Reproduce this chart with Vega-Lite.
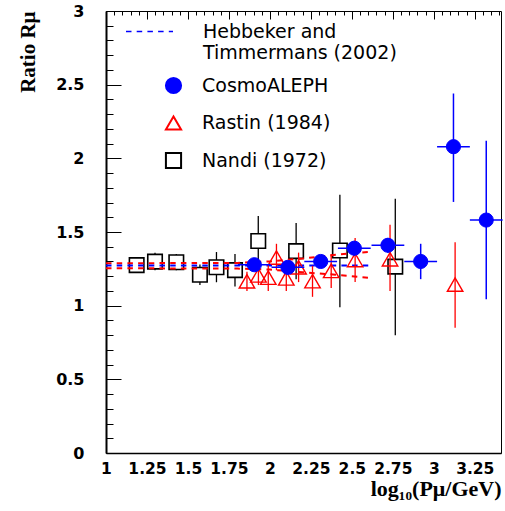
{
  "$schema": "https://vega.github.io/schema/vega-lite/v6.json",
  "width": 395,
  "height": 442,
  "autosize": "none",
  "padding": {"left": 106, "top": 11, "right": 4, "bottom": 58},
  "background": "white",
  "config": {
    "view": {"stroke": "#000", "strokeWidth": 1},
    "legend": {
      "labelFont": "DejaVu Sans",
      "labelFontSize": 19,
      "labelColor": "#000",
      "labelLimit": 400,
      "symbolStrokeWidth": 2,
      "rowPadding": 13.5,
      "title": null
    }
  },
  "datasets": {
    "theory": [
      {"model": "Hebbeker and Timmermans (2002)", "logp": 1.0, "center": 1.272, "upper": 1.288, "lower": 1.254},
      {"model": "Hebbeker and Timmermans (2002)", "logp": 1.8, "center": 1.272, "upper": 1.29, "lower": 1.252},
      {"model": "Hebbeker and Timmermans (2002)", "logp": 2.0, "center": 1.272, "upper": 1.30, "lower": 1.245},
      {"model": "Hebbeker and Timmermans (2002)", "logp": 2.2, "center": 1.272, "upper": 1.32, "lower": 1.227},
      {"model": "Hebbeker and Timmermans (2002)", "logp": 2.4, "center": 1.272, "upper": 1.345, "lower": 1.21},
      {"model": "Hebbeker and Timmermans (2002)", "logp": 2.6, "center": 1.272, "upper": 1.365, "lower": 1.19}
    ],
    "nandi": [
      {"series": "Nandi (1972)", "logp": 1.187, "ratio": 1.275, "lo": 1.23, "hi": 1.32},
      {"series": "Nandi (1972)", "logp": 1.299, "ratio": 1.299, "lo": 1.24, "hi": 1.36},
      {"series": "Nandi (1972)", "logp": 1.429, "ratio": 1.295, "lo": 1.24, "hi": 1.35},
      {"series": "Nandi (1972)", "logp": 1.573, "ratio": 1.21, "lo": 1.14, "hi": 1.28},
      {"series": "Nandi (1972)", "logp": 1.674, "ratio": 1.261, "lo": 1.159, "hi": 1.364},
      {"series": "Nandi (1972)", "logp": 1.787, "ratio": 1.241, "lo": 1.13, "hi": 1.35},
      {"series": "Nandi (1972)", "logp": 1.929, "ratio": 1.439, "lo": 1.27, "hi": 1.609},
      {"series": "Nandi (1972)", "logp": 2.16, "ratio": 1.37, "lo": 1.18, "hi": 1.561},
      {"series": "Nandi (1972)", "logp": 2.427, "ratio": 1.374, "lo": 0.989, "hi": 1.752},
      {"series": "Nandi (1972)", "logp": 2.765, "ratio": 1.265, "lo": 0.80, "hi": 1.725}
    ],
    "rastin": [
      {"series": "Rastin (1984)", "logp": 1.86, "ratio": 1.165, "lo": 1.10, "hi": 1.23},
      {"series": "Rastin (1984)", "logp": 1.93, "ratio": 1.205, "lo": 1.14, "hi": 1.27},
      {"series": "Rastin (1984)", "logp": 1.99, "ratio": 1.19, "lo": 1.10, "hi": 1.28},
      {"series": "Rastin (1984)", "logp": 2.04, "ratio": 1.327, "lo": 1.24, "hi": 1.42},
      {"series": "Rastin (1984)", "logp": 2.10, "ratio": 1.185, "lo": 1.10, "hi": 1.27},
      {"series": "Rastin (1984)", "logp": 2.175, "ratio": 1.26, "lo": 1.16, "hi": 1.36},
      {"series": "Rastin (1984)", "logp": 2.26, "ratio": 1.166, "lo": 1.06, "hi": 1.27},
      {"series": "Rastin (1984)", "logp": 2.374, "ratio": 1.236, "lo": 1.12, "hi": 1.35},
      {"series": "Rastin (1984)", "logp": 2.52, "ratio": 1.31, "lo": 1.16, "hi": 1.46},
      {"series": "Rastin (1984)", "logp": 2.733, "ratio": 1.315, "lo": 1.10, "hi": 1.55},
      {"series": "Rastin (1984)", "logp": 3.13, "ratio": 1.143, "lo": 0.85, "hi": 1.43}
    ],
    "cosmo": [
      {"series": "CosmoALEPH", "logp": 1.905, "ratio": 1.278, "lo": 1.24, "hi": 1.32, "xlo": 1.805, "xhi": 2.005},
      {"series": "CosmoALEPH", "logp": 2.11, "ratio": 1.26, "lo": 1.22, "hi": 1.30, "xlo": 2.01, "xhi": 2.21},
      {"series": "CosmoALEPH", "logp": 2.31, "ratio": 1.30, "lo": 1.26, "hi": 1.34, "xlo": 2.21, "xhi": 2.41},
      {"series": "CosmoALEPH", "logp": 2.515, "ratio": 1.39, "lo": 1.34, "hi": 1.44, "xlo": 2.415, "xhi": 2.615},
      {"series": "CosmoALEPH", "logp": 2.72, "ratio": 1.41, "lo": 1.36, "hi": 1.46, "xlo": 2.62, "xhi": 2.82},
      {"series": "CosmoALEPH", "logp": 2.92, "ratio": 1.30, "lo": 1.18, "hi": 1.42, "xlo": 2.82, "xhi": 3.02},
      {"series": "CosmoALEPH", "logp": 3.12, "ratio": 2.079, "lo": 1.704, "hi": 2.44, "xlo": 3.02, "xhi": 3.22},
      {"series": "CosmoALEPH", "logp": 3.32, "ratio": 1.581, "lo": 1.043, "hi": 2.12, "xlo": 3.22, "xhi": 3.42}
    ]
  },
  "resolve": {"axis": {"x": "independent", "y": "independent"}},
  "layer": [
    {
      "data": {"name": "nandi"},
      "mark": {"type": "rule", "color": "#000", "strokeWidth": 1.3},
      "encoding": {
        "x": {"field": "logp", "type": "quantitative", "scale": {"domain": [1, 3.41], "nice": false, "zero": false}, "axis": null},
        "y": {"field": "lo", "type": "quantitative", "scale": {"domain": [0, 3], "nice": false, "zero": false}, "axis": null},
        "y2": {"field": "hi"}
      }
    },
    {
      "data": {"name": "nandi"},
      "mark": {"type": "point", "opacity": 1, "strokeWidth": 1.6, "size": 210},
      "encoding": {
        "x": {"field": "logp", "type": "quantitative", "axis": null},
        "y": {"field": "ratio", "type": "quantitative", "axis": null},
        "shape": {"field": "series", "type": "nominal", "scale": {"domain": ["CosmoALEPH", "Rastin (1984)", "Nandi (1972)"], "range": ["circle", "triangle-up", "square"]},
          "legend": {"orient": "none", "legendX": 58, "legendY": 65, "symbolSize": 230, "labelOffset": 19}},
        "stroke": {"field": "series", "type": "nominal", "scale": {"domain": ["CosmoALEPH", "Rastin (1984)", "Nandi (1972)"], "range": ["#0000ff", "#ff0000", "#000000"]}},
        "fill": {"field": "series", "type": "nominal", "scale": {"domain": ["CosmoALEPH", "Rastin (1984)", "Nandi (1972)"], "range": ["#0000ff", "transparent", "#ffffff"]}}
      }
    },
    {
      "data": {"name": "theory"},
      "mark": {"type": "line", "color": "#ff0000", "strokeWidth": 2, "strokeDash": [5.5, 5.2]},
      "encoding": {
        "x": {"field": "logp", "type": "quantitative",
          "axis": {"orient": "bottom",
            "values": [1, 1.05, 1.1, 1.15, 1.2, 1.25, 1.3, 1.35, 1.4, 1.45, 1.5, 1.55, 1.6, 1.65, 1.7, 1.75, 1.8, 1.85, 1.9, 1.95, 2, 2.05, 2.1, 2.15, 2.2, 2.25, 2.3, 2.35, 2.4, 2.45, 2.5, 2.55, 2.6, 2.65, 2.7, 2.75, 2.8, 2.85, 2.9, 2.95, 3, 3.05, 3.1, 3.15, 3.2, 3.25, 3.3, 3.35, 3.4],
            "labelExpr": "abs(datum.value * 4 - round(datum.value * 4)) < 0.001 ? format(datum.value, '~g') : ''",
            "ticks": false,
            "grid": true, "gridColor": "#000", "gridWidth": 1, "gridOpacity": 1,
            "gridDash": {"condition": {"test": "abs(datum.value * 4 - round(datum.value * 4)) < 0.001", "value": [8, 1000]}, "value": [4, 1000]},
            "domain": true, "domainColor": "#000", "domainWidth": 1.5,
            "labelFont": "DejaVu Sans", "labelFontWeight": "bold", "labelFontSize": 15.5, "labelColor": "#000",
            "labelPadding": 8, "labelFlush": false, "labelOverlap": false,
            "title": "log₁₀(Pμ/GeV)", "titleFont": "Liberation Serif", "titleFontWeight": "bold", "titleFontSize": 22,
            "titleColor": "#000", "titleAnchor": "end", "titlePadding": 2}},
        "y": {"field": "upper", "type": "quantitative",
          "axis": {"orient": "left",
            "values": [0, 0.1, 0.2, 0.3, 0.4, 0.5, 0.6, 0.7, 0.8, 0.9, 1, 1.1, 1.2, 1.3, 1.4, 1.5, 1.6, 1.7, 1.8, 1.9, 2, 2.1, 2.2, 2.3, 2.4, 2.5, 2.6, 2.7, 2.8, 2.9, 3],
            "labelExpr": "abs(datum.value * 2 - round(datum.value * 2)) < 0.001 ? format(datum.value, '~g') : ''",
            "ticks": false,
            "grid": true, "gridColor": "#000", "gridWidth": 1, "gridOpacity": 1,
            "gridDash": {"condition": {"test": "abs(datum.value * 2 - round(datum.value * 2)) < 0.001", "value": [15, 1000]}, "value": [7, 1000]},
            "domain": true, "domainColor": "#000", "domainWidth": 2,
            "labelFont": "DejaVu Sans", "labelFontWeight": "bold", "labelFontSize": 16, "labelColor": "#000",
            "labelPadding": 22, "labelFlush": false, "labelOverlap": false,
            "title": "Ratio Rμ", "titleFont": "Liberation Serif", "titleFontWeight": "bold", "titleFontSize": 21,
            "titleColor": "#000", "titleAnchor": "end", "titlePadding": 17}}
      }
    },
    {
      "data": {"name": "theory"},
      "mark": {"type": "line", "color": "#ff0000", "strokeWidth": 2, "strokeDash": [5.5, 5.2]},
      "encoding": {
        "x": {"field": "logp", "type": "quantitative", "axis": null},
        "y": {"field": "lower", "type": "quantitative", "axis": null}
      }
    },
    {
      "data": {"name": "theory"},
      "mark": {"type": "line", "color": "#0000ff", "strokeWidth": 2},
      "encoding": {
        "x": {"field": "logp", "type": "quantitative", "axis": null},
        "y": {"field": "center", "type": "quantitative", "axis": null},
        "strokeDash": {"field": "model", "type": "nominal", "scale": {"range": [[5.5, 5.2]]},
          "legend": {"orient": "none", "legendX": 19, "legendY": -4, "symbolType": "stroke", "symbolSize": 2209,
            "symbolStrokeColor": "#0000ff", "symbolStrokeWidth": 1.5, "labelOffset": 29,
            "labelExpr": "['Hebbeker and', 'Timmermans (2002)']"}}
      }
    },
    {
      "data": {"name": "rastin"},
      "mark": {"type": "rule", "color": "#ff0000", "strokeWidth": 1.3},
      "encoding": {
        "x": {"field": "logp", "type": "quantitative", "axis": null},
        "y": {"field": "lo", "type": "quantitative", "axis": null},
        "y2": {"field": "hi"}
      }
    },
    {
      "data": {"name": "rastin"},
      "mark": {"type": "point", "opacity": 1, "strokeWidth": 1.4, "size": 240},
      "encoding": {
        "x": {"field": "logp", "type": "quantitative", "axis": null},
        "y": {"field": "ratio", "type": "quantitative", "axis": null},
        "shape": {"field": "series", "type": "nominal"},
        "stroke": {"field": "series", "type": "nominal"},
        "fill": {"field": "series", "type": "nominal"}
      }
    },
    {
      "data": {"name": "cosmo"},
      "mark": {"type": "rule", "color": "#0000ff", "strokeWidth": 1.5},
      "encoding": {
        "x": {"field": "logp", "type": "quantitative", "axis": null},
        "y": {"field": "lo", "type": "quantitative", "axis": null},
        "y2": {"field": "hi"}
      }
    },
    {
      "data": {"name": "cosmo"},
      "mark": {"type": "rule", "color": "#0000ff", "strokeWidth": 1.5},
      "encoding": {
        "x": {"field": "xlo", "type": "quantitative", "axis": null},
        "x2": {"field": "xhi"},
        "y": {"field": "ratio", "type": "quantitative", "axis": null}
      }
    },
    {
      "data": {"name": "cosmo"},
      "mark": {"type": "point", "opacity": 1, "strokeWidth": 1, "size": 200},
      "encoding": {
        "x": {"field": "logp", "type": "quantitative", "axis": null},
        "y": {"field": "ratio", "type": "quantitative", "axis": null},
        "shape": {"field": "series", "type": "nominal"},
        "stroke": {"field": "series", "type": "nominal"},
        "fill": {"field": "series", "type": "nominal"}
      }
    }
  ]
}
